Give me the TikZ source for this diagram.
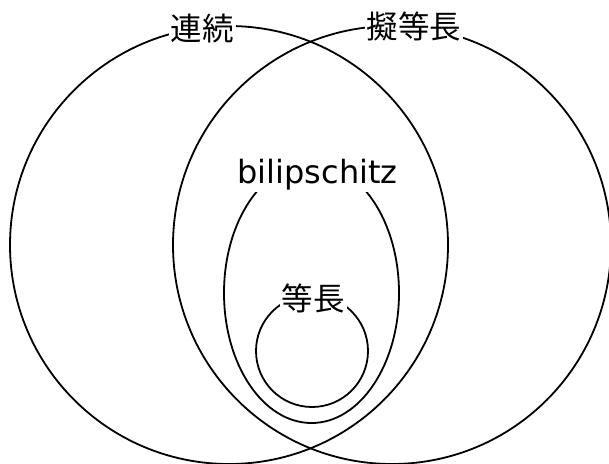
\documentclass[tikz,border=0pt]{standalone}
\usepackage{fontspec}
\setmainfont{DejaVu Sans}
\newfontfamily\jpfont{Noto Sans CJK JP}
\usetikzlibrary{shapes.geometric}
\begin{document}
\begin{tikzpicture}[x=1pt,y=-1pt,
  setline/.style={draw=black, line width=1.8pt, fill=none, inner sep=0pt, outer sep=0pt},
  jplabel/.style={fill=white, inner sep=2pt, font=\jpfont\fontsize{31.5}{36}\selectfont},
  enlabel/.style={fill=white, inner sep=2pt, font=\fontsize{32}{38}\selectfont}]
\useasboundingbox (0,0) rectangle (609,463);
\node[setline, circle, minimum size=438pt] (cont) at (229,245) {};
\node[setline, circle, minimum size=438pt] (qiso) at (392,245) {};
\node[setline, ellipse, minimum width=175pt, minimum height=260pt] (bilip) at (311.5,293) {};
\node[setline, circle, minimum size=112pt] (iso) at (312,351) {};
\node[jplabel] (contlabel) at (202,29) {連続};
\node[jplabel] (qisolabel) at (414,26.5) {擬等長};
\node[enlabel, anchor=base] (biliplabel) at (317.5,183) {bilipschitz};
\node[jplabel] (isolabel) at (313,298) {等長};
\end{tikzpicture}
\end{document}
